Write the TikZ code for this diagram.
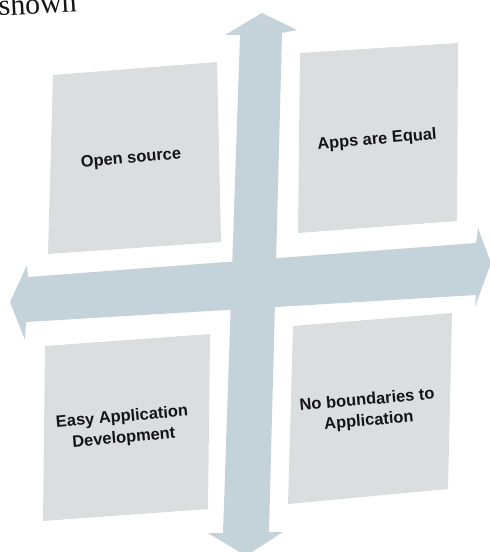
\documentclass[tikz,border=0pt]{standalone}
\usepackage{fontspec}
\newfontfamily\labelfont{Liberation Sans}
\newfontfamily\pagefont{Liberation Serif}
\definecolor{bandblue}{RGB}{196,210,217}
\definecolor{panelgray}{RGB}{218,222,223}
\definecolor{inkblack}{RGB}{20,20,24}
\begin{document}
\begin{tikzpicture}[x=1bp,y=-1bp,
  arrowband/.style={fill=bandblue,draw=none},
  panel/.style={fill=panelgray,draw=none},
  caption/.style={font=\labelfont\bfseries\fontsize{16.5}{21}\selectfont,
                  align=center,text=inkblack,rotate=5,inner sep=0pt}]
\useasboundingbox (0,0) rectangle (490,552);
\clip (0,0) rectangle (490,552);

% running text of the page, cut by the top edge
\node[font=\pagefont\fontsize{30}{32}\selectfont,anchor=base west,
      rotate=3,inner sep=0pt,text=inkblack] (pagetext) at (-1,16) {shown};

% vertical double arrow
\fill[arrowband] (262,13) -- (297,30) -- (282,33) -- (269,532) -- (283,532)
  -- (246,556) -- (208,533) -- (223,533) -- (240,35) -- (225,35) -- cycle;

% horizontal double arrow
\fill[arrowband] (10,302) -- (27,265) -- (28,277) -- (476,243) -- (478,228)
  -- (491,263) -- (475,307) -- (476,295) -- (26,322) -- (25,340) -- cycle;

% the four quadrant panels
\fill[panel] (53,75) -- (217,62) -- (221,242) -- (48,254) -- cycle;
\fill[panel] (300,53) -- (458,43) -- (457,221) -- (298,233) -- cycle;
\fill[panel] (45,346) -- (210,334) -- (208,509) -- (43,521) -- cycle;
\fill[panel] (293,326) -- (452,313) -- (448,489) -- (288,504) -- cycle;

% panel captions
\node[caption] (opensource) at (131,159) {Open source};
\node[caption] (appsequal) at (377,140) {Apps are Equal};
\node[caption] (easydev) at (123,428) {Easy Application\\Development};
\node[caption] (noboundaries) at (368,411) {No boundaries to\\Application};
\end{tikzpicture}
\end{document}
